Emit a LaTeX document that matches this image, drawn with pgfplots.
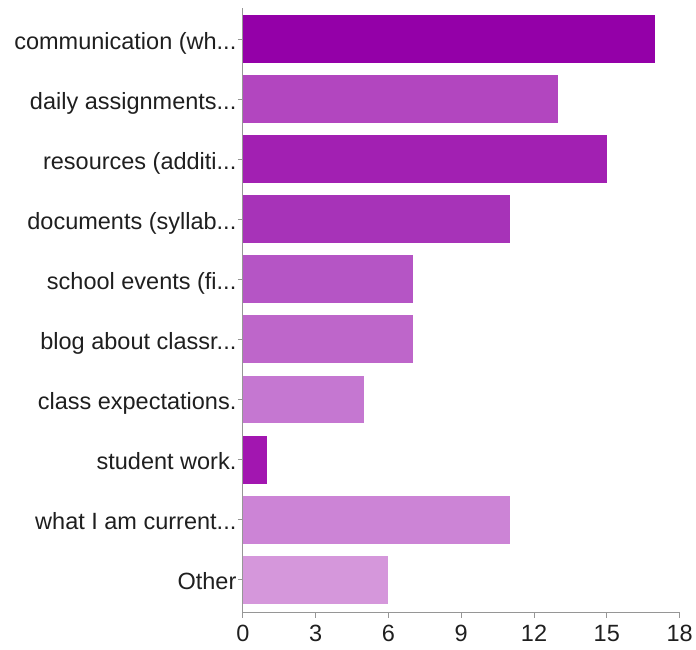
\documentclass[border=0pt]{standalone}
\usepackage{pgfplots}
\pgfplotsset{compat=1.18}
\usepackage{fontspec}
\setmainfont{Liberation Sans}
\definecolor{c0}{RGB}{148,0,168}
\definecolor{c1}{RGB}{178,70,191}
\definecolor{c2}{RGB}{162,32,178}
\definecolor{c3}{RGB}{167,51,184}
\definecolor{c4}{RGB}{181,85,197}
\definecolor{c5}{RGB}{190,102,202}
\definecolor{c6}{RGB}{197,119,209}
\definecolor{c7}{RGB}{162,22,176}
\definecolor{c8}{RGB}{204,132,214}
\definecolor{c9}{RGB}{213,151,219}
\definecolor{axgray}{RGB}{150,150,150}
\newcommand\dd{...}

\begin{document}
\begin{tikzpicture}
\begin{axis}[
    scale only axis,
    width=437bp, height=605bp,
    xmin=0, xmax=18,
    ymin=-0.52, ymax=9.55,
    y dir=reverse,
    xbar, bar width=48bp, bar shift=0pt,
    axis x line*=bottom, axis y line*=left,
    xtick={0,3,6,9,12,15,18},
    ytick={0,1,2,3,4,5,6,7,8,9},
    yticklabels={communication (wh\dd,daily assignments\dd,resources (additi\dd,documents (syllab\dd,school events (fi\dd,blog about classr\dd,class expectations.,student work.,what I am current\dd,Other},
    tick align=outside,
    major tick length=5bp,
    tick style={axgray, line width=1bp},
    axis line style={axgray, line width=1.2bp},
    tick label style={font=\fontsize{23.6}{27}\selectfont, text=black!88,
        text height=17bp, text depth=5bp},
    xticklabel style={yshift=-3bp},
    yticklabel style={xshift=2bp, yshift=-4bp},
    /pgf/number format/assume math mode=true,
]
\addplot[fill=c0, draw=none] coordinates {(17,0)};
\addplot[fill=c1, draw=none] coordinates {(13,1)};
\addplot[fill=c2, draw=none] coordinates {(15,2)};
\addplot[fill=c3, draw=none] coordinates {(11,3)};
\addplot[fill=c4, draw=none] coordinates {(7,4)};
\addplot[fill=c5, draw=none] coordinates {(7,5)};
\addplot[fill=c6, draw=none] coordinates {(5,6)};
\addplot[fill=c7, draw=none] coordinates {(1,7)};
\addplot[fill=c8, draw=none] coordinates {(11,8)};
\addplot[fill=c9, draw=none] coordinates {(6,9)};
\end{axis}
\path (current axis.south west) ++(-243bp,-37bp) coordinate (a);
\path (current axis.north east) ++(16bp,8bp) coordinate (b);
\path (a) rectangle (b);
\end{tikzpicture}
\end{document}
